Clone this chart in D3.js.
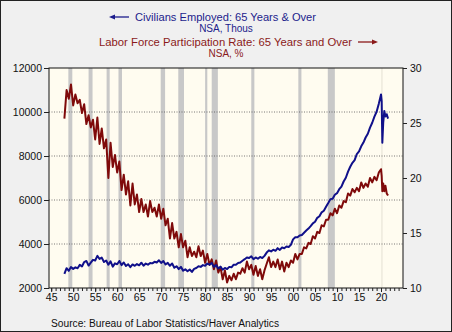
<!DOCTYPE html>
<html>
<head>
<meta charset="utf-8">
<script src="https://cdn.jsdelivr.net/npm/d3@7"></script>
<style>
  body { margin: 0; }
  text { font-family: "Liberation Sans", Arial, sans-serif; }
</style>
</head>
<body>
<script>
// semiannual points 1948.0 .. 2019.5, then a denser tail through the 2020 drop
var tailDates = [2020.0, 2020.15, 2020.3, 2020.5, 2020.75, 2021.0, 2021.3, 2021.6];
var dates = d3.range(1948, 2020, 0.5).concat(tailDates);

// Civilians Employed: 65 Years & Over, thousands (left axis)
var employed = [
  2640, 2900, 2780, 2950, 2870, 2940, 2900, 3050, 2980, 3180,
  3230, 3020, 3150, 3280, 3250, 3460, 3320, 3380, 3180, 3250,
  3060, 3210, 2970, 3120, 3080, 3230, 3040, 3160, 3000, 3080,
  2950, 3070, 3010, 3090, 3030, 3150, 3010, 3110, 3060, 3140,
  3120, 3190, 3160, 3260, 3140, 3230, 3070, 3140, 3010, 3110,
  2920, 2990, 2860, 2960, 2790, 2850, 2760, 2840, 2730, 2870,
  2910, 2990, 2960, 3040, 3010, 3110, 3060, 3140, 2960, 3040,
  2890, 2970, 2830, 2910, 2860, 2960, 2940, 3060, 3060, 3140,
  3160, 3240, 3310, 3390, 3360, 3440, 3310, 3390, 3330, 3410,
  3360, 3460, 3610, 3710, 3660, 3740, 3690, 3810, 3730, 3840,
  3810, 3890, 3860, 3960, 4210, 4310, 4310, 4390, 4410, 4510,
  4610, 4700, 4810, 4940, 5010, 5190, 5260, 5440, 5510, 5690,
  5860, 6040, 6060, 6240, 6310, 6490, 6610, 6840, 7010, 7290,
  7510, 7690, 7810, 8090, 8210, 8440, 8610, 8840, 9010, 9290,
  9510, 9790, 10010, 10380,
  10800, 10500, 8600, 9500, 10050, 9800, 9900, 9700
];

// Labor Force Participation Rate: 65 Years and Over, % (right axis)
var participation = [
  25.4, 28.0, 27.2, 28.5, 26.6, 27.6, 26.8, 27.1, 25.9, 26.7,
  24.9, 25.7, 24.6, 25.3, 23.5, 25.5, 23.1, 24.5, 22.7, 23.5,
  20.0, 23.2, 21.0, 22.1, 20.5, 21.5, 18.9, 20.3, 18.5, 19.7,
  17.5, 19.5, 17.6, 18.5, 16.9, 18.1, 16.9, 17.6, 16.5, 17.9,
  16.9, 17.3, 16.5, 17.6, 16.3, 17.2, 15.7, 16.3, 14.5, 15.9,
  14.5, 15.1, 13.7, 14.9, 13.7, 14.3, 12.8, 13.7, 12.9, 13.3,
  12.8, 13.8, 12.9, 13.4, 12.3, 13.1, 12.1, 12.6, 11.7, 12.5,
  11.4, 11.9, 10.8, 11.6, 10.5, 11.1, 10.7, 11.3, 10.8, 11.4,
  11.3, 11.8, 11.4, 12.4, 11.7, 12.1, 11.2, 12.0, 11.1, 11.7,
  10.8, 11.6, 12.2, 12.8, 11.9, 12.4, 11.9, 12.6, 11.7, 12.4,
  11.5, 12.3, 11.9, 12.5, 12.3, 13.1, 12.6, 13.1, 13.1, 13.7,
  13.6, 14.1, 14.0, 14.7, 14.5, 15.1, 15.0, 15.7, 15.6, 16.2,
  16.2, 16.8, 16.6, 17.2, 16.8, 17.5, 17.3, 17.9, 17.8, 18.6,
  18.4, 19.0, 18.7, 19.1, 18.8, 19.6, 19.1, 19.5, 19.2, 20.0,
  19.6, 20.1, 19.8, 20.5,
  20.8, 20.2, 18.8, 19.5, 18.8, 19.3, 18.6, 18.4
];

// recessions (start, end) in fractional years
var recessions = [
  [1948.9, 1949.8], [1953.5, 1954.4], [1957.6, 1958.3], [1960.3, 1961.1],
  [1969.9, 1970.9], [1973.9, 1975.2], [1980.0, 1980.5], [1981.5, 1982.9],
  [1990.5, 1991.2], [2001.2, 2001.9], [2007.9, 2009.5], [2020.1, 2020.3]
];

var leftTicks = [2000, 4000, 6000, 8000, 10000, 12000];
var rightTicks = [10, 15, 20, 25, 30];
var xLabelYears = d3.range(1945, 2021, 5);

var W = 452, H = 332;
var margin = {top: 68, right: 49, bottom: 44, left: 49},
    width = W - margin.left - margin.right,
    height = H - margin.top - margin.bottom;

var navy = "#10108a", maroon = "#7f0a0a";

var svg = d3.select("body").append("svg")
    .attr("width", W)
    .attr("height", H);

svg.append("rect")
    .attr("x", 0.5).attr("y", 0.5)
    .attr("width", W - 1).attr("height", H - 1)
    .attr("fill", "#f0f0f0")
    .attr("stroke", "#222");

// titles
function arrow(x1, x2, y, color) {
  var dir = x2 > x1 ? 1 : -1;
  svg.append("line")
    .attr("x1", x1).attr("x2", x2 - dir * 4).attr("y1", y).attr("y2", y)
    .attr("stroke", color).attr("stroke-width", 1.3);
  svg.append("path")
    .attr("d", "M" + x2 + "," + y + "L" + (x2 - dir * 6) + "," + (y - 2.5) + "L" + (x2 - dir * 6) + "," + (y + 2.5) + "Z")
    .attr("fill", color);
}

svg.append("text").attr("x", 135).attr("y", 21)
    .attr("font-size", 11).attr("fill", "#1c1c8c")
    .attr("textLength", 181).attr("lengthAdjust", "spacingAndGlyphs")
    .text("Civilians Employed: 65 Years & Over");
arrow(129, 109, 17, "#1c1c8c");
svg.append("text").attr("x", 226).attr("y", 31.5).attr("text-anchor", "middle")
    .attr("font-size", 10).attr("fill", "#1c1c8c")
    .text("NSA, Thous");

svg.append("text").attr("x", 99).attr("y", 46)
    .attr("font-size", 11).attr("fill", "#8b1a1a")
    .attr("textLength", 253).attr("lengthAdjust", "spacingAndGlyphs")
    .text("Labor Force Participation Rate: 65 Years and Over");
arrow(358, 378, 42, "#8b1a1a");
svg.append("text").attr("x", 226).attr("y", 56.5).attr("text-anchor", "middle")
    .attr("font-size", 10).attr("fill", "#8b1a1a")
    .text("NSA, %");

var g = svg.append("g")
    .attr("transform", "translate(" + margin.left + "," + margin.top + ")");

var x = d3.scaleLinear().domain([1944.5, 2025]).range([0, width]);
var yL = d3.scaleLinear().domain([2000, 12000]).range([height, 0]);
var yR = d3.scaleLinear().domain([10, 30]).range([height, 0]);

g.append("rect")
    .attr("width", width).attr("height", height)
    .attr("fill", "#fffcf0");

// recession shading
g.selectAll(".rec")
    .data(recessions)
    .enter().append("rect")
    .attr("class", "rec")
    .attr("x", function(d) { return x(d[0]); })
    .attr("width", function(d) { return Math.max(1, x(d[1]) - x(d[0])); })
    .attr("y", 0).attr("height", height)
    .attr("fill", function(d) { return d[0] > 2019 ? "#e4e0d4" : "#c8c8c8"; });

// dotted gridlines
g.selectAll(".grid")
    .data(leftTicks.slice(1, -1))
    .enter().append("line")
    .attr("class", "grid")
    .attr("x1", 0).attr("x2", width)
    .attr("y1", function(d) { return yL(d); })
    .attr("y2", function(d) { return yL(d); })
    .attr("stroke", "#555")
    .attr("stroke-dasharray", "1,1.5")
    .attr("stroke-width", 0.8);

var pts = dates.map(function(t, i) { return {t: t, e: employed[i], p: participation[i]}; });

g.append("path")
    .datum(pts)
    .attr("fill", "none")
    .attr("stroke", maroon)
    .attr("stroke-width", 2)
    .attr("stroke-linejoin", "round")
    .attr("d", d3.line().x(function(d) { return x(d.t); }).y(function(d) { return yR(d.p); }));

g.append("path")
    .datum(pts)
    .attr("fill", "none")
    .attr("stroke", navy)
    .attr("stroke-width", 2)
    .attr("stroke-linejoin", "round")
    .attr("d", d3.line().x(function(d) { return x(d.t); }).y(function(d) { return yL(d.e); }));

g.append("rect")
    .attr("width", width).attr("height", height)
    .attr("fill", "none").attr("stroke", "#111");

// axes
var axL = g.append("g")
    .call(d3.axisLeft(yL).tickValues(leftTicks).tickSize(5).tickPadding(2).tickFormat(d3.format("d")));
var axR = g.append("g")
    .attr("transform", "translate(" + width + ",0)")
    .call(d3.axisRight(yR).tickValues(rightTicks).tickSize(4).tickPadding(3));
var axMinor = g.append("g")
    .attr("transform", "translate(0," + height + ")")
    .call(d3.axisBottom(x).tickValues(d3.range(1945, 2025, 1)).tickSize(3).tickFormat(""));
var axB = g.append("g")
    .attr("transform", "translate(0," + height + ")")
    .call(d3.axisBottom(x).tickValues(xLabelYears).tickSize(4).tickPadding(2)
      .tickFormat(function(d) { return d3.format("02d")(d % 100); }));

[axL, axR, axMinor, axB].forEach(function(a) {
  a.select(".domain").remove();
  a.selectAll("line").attr("stroke", "#222");
  a.selectAll("text").attr("font-size", 10.5).attr("fill", "#111")
    .attr("font-family", "'Liberation Sans', Arial, sans-serif");
});

svg.append("text")
    .attr("x", 51).attr("y", 327)
    .attr("font-size", 10).attr("fill", "#111")
    .attr("textLength", 228).attr("lengthAdjust", "spacingAndGlyphs")
    .text("Source:  Bureau of Labor Statistics/Haver Analytics");
</script>
</body>
</html>
